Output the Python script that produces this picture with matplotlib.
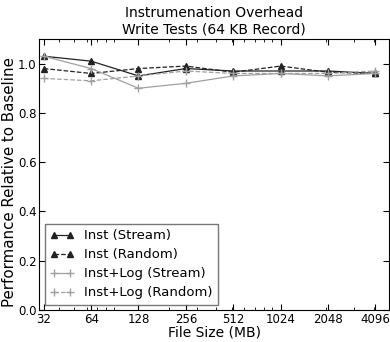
import matplotlib
matplotlib.use('Agg')
import matplotlib.pyplot as plt
from matplotlib.ticker import FixedLocator, NullFormatter

sizes = [32, 64, 128, 256, 512, 1024, 2048, 4096]
inst_stream = [1.03, 1.01, 0.95, 0.98, 0.97, 0.97, 0.97, 0.96]
inst_random = [0.98, 0.96, 0.98, 0.99, 0.965, 0.99, 0.965, 0.96]
log_stream = [1.03, 0.98, 0.90, 0.92, 0.95, 0.96, 0.95, 0.96]
log_random = [0.94, 0.93, 0.95, 0.97, 0.96, 0.96, 0.96, 0.97]

fig = plt.figure(figsize=(3.9, 3.42), dpi=100)
ax = fig.add_axes([0.101, 0.094, 0.896, 0.792])

dark = '#222222'
light = '#a0a0a0'
ax.plot(sizes, inst_stream, color=dark, ls='-', marker='^', ms=4, lw=0.9, label='Inst (Stream)')
ax.plot(sizes, inst_random, color=dark, ls='--', marker='^', ms=4, lw=0.9, label='Inst (Random)')
ax.plot(sizes, log_stream, color=light, ls='-', marker='+', ms=6, lw=0.9, label='Inst+Log (Stream)')
ax.plot(sizes, log_random, color=light, ls='--', marker='+', ms=6, lw=0.9, label='Inst+Log (Random)')

ax.set_xscale('log')
ax.set_xlim(30, 5000)
ax.set_ylim(0, 1.1)
ax.xaxis.set_major_locator(FixedLocator(sizes))
ax.set_xticklabels([str(s) for s in sizes])
ax.xaxis.set_minor_formatter(NullFormatter())
ax.set_yticks([0.0, 0.2, 0.4, 0.6, 0.8, 1.0])
ax.set_yticklabels(['0.0', '0.2', '0.4', '0.6', '0.8', '1.0'])
ax.tick_params(which='both', direction='in', top=True, right=True, labelsize=8.5, pad=2)
ax.tick_params(which='major', length=4)
ax.tick_params(which='minor', length=2)

ax.set_xlabel('File Size (MB)', fontsize=10, labelpad=0)
ax.set_ylabel('Performance Relative to Baseline', fontsize=10.8)
ax.yaxis.set_label_coords(-0.064, 0.47)
ax.set_title('Instrumenation Overhead\nWrite Tests (64 KB Record)', fontsize=10, pad=4)

leg = ax.legend(loc='lower left', fontsize=9.5, fancybox=False, numpoints=2,
                handlelength=1.8, borderaxespad=0.4, labelspacing=0.45)
leg.get_frame().set_edgecolor('#555555')

fig.savefig('out.png', dpi=100)
